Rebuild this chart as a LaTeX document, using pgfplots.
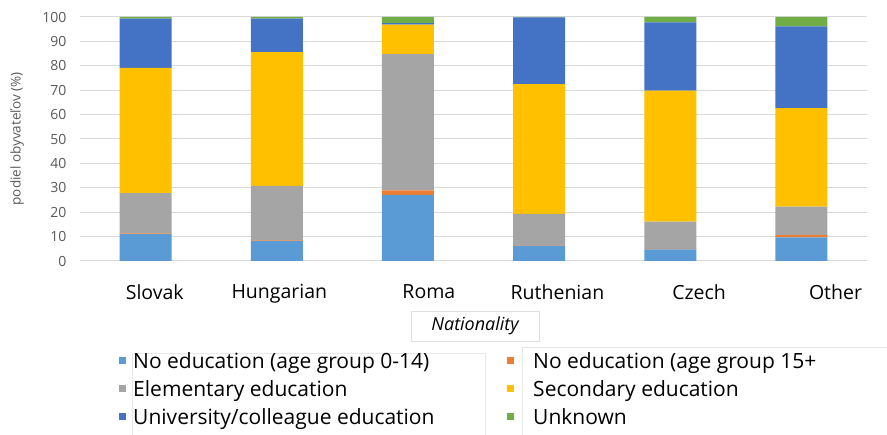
\documentclass[border=0pt]{standalone}
\usepackage{pgfplots}
\pgfplotsset{compat=1.18}
\usepackage{fontspec}
\setmainfont{Open Sans}

\definecolor{cNoA}{HTML}{5B9BD5}
\definecolor{cNoB}{HTML}{ED7D31}
\definecolor{cElem}{HTML}{A5A5A5}
\definecolor{cSec}{HTML}{FFC000}
\definecolor{cUni}{HTML}{4472C4}
\definecolor{cUnk}{HTML}{70AD47}
\definecolor{gridc}{HTML}{D9D9D9}
\definecolor{tickc}{HTML}{595959}

\begin{document}
\begin{tikzpicture}
\useasboundingbox (0,0) rectangle (887pt,435pt);
% faint frames left over around the two legend halves
\draw[black!9] (132pt,0pt) -- (132pt,82pt) -- (485pt,82pt) -- (485pt,0pt);
\draw[black!9] (522pt,0pt) -- (522pt,88pt) -- (887pt,88pt);
\begin{axis}[
    at={(80pt,174pt)}, anchor=south west,
    scale only axis,
    width=787pt, height=244pt,
    ybar stacked, bar width=52pt,
    xmin=-0.5, xmax=5.5,
    ymin=0, ymax=100,
    ytick={0,10,...,100},
    % labels sit a little right of the bars, as in the original
    xtick={0.07,1.02,2.16,3.14,4.22,5.26},
    xticklabels={Slovak,Hungarian,Roma,Ruthenian,Czech,Other},
    major tick length=0pt,
    axis line style={draw=none},
    ymajorgrids, grid style={gridc, line width=1pt},
    /pgf/number format/assume math mode=true,
    yticklabel style={font=\fontsize{14}{16}\selectfont, text=tickc, xshift=-10pt},
    xticklabel style={font=\fontsize{19.5}{22}\selectfont, yshift=-20pt},
    ylabel={podiel obyvateľov (\%)},
    every axis y label/.style={at={(axis description cs:-0.08,0.5)}, rotate=90, anchor=center,
        font=\fontsize{13.5}{15}\selectfont, text=tickc},
    xlabel={\itshape Nationality},
    every axis x label/.style={at={(axis description cs:0.502,-0.266)}, anchor=center,
        font=\fontsize{18}{21}\selectfont, draw=black!12, minimum width=128pt, minimum height=30pt},
    legend columns=2,
    legend image code/.code={\fill[#1] (0pt,-1pt) rectangle (7pt,6pt);},
    legend style={at={(axis description cs:0.0496,-0.377)}, anchor=north west,
        draw=none, fill=none, inner sep=0pt, row sep=9pt, column sep=7pt,
        font=\fontsize{21}{24}\selectfont,
        nodes={inner sep=0pt, text height=15pt, text depth=4pt}},
    legend cell align=left,
]
% order: Slovak, Hungarian, Roma, Ruthenian, Czech, Other
\addplot[fill=cNoA, draw=none] coordinates {(0,11.0) (1,8.2) (2,27.1) (3,6.3) (4,4.8) (5,9.7)};
\addplot[fill=cNoB, draw=none] coordinates {(0,0.3) (1,0.3) (2,1.8) (3,0.2) (4,0.2) (5,0.9)};
\addplot[fill=cElem, draw=none] coordinates {(0,16.5) (1,22.3) (2,55.9) (3,12.8) (4,11.1) (5,11.7)};
\addplot[fill=cSec, draw=none] coordinates {(0,51.3) (1,54.8) (2,12.1) (3,53.2) (4,53.7) (5,40.4)};
\addplot[fill=cUni, draw=none] coordinates {(0,20.2) (1,13.7) (2,0.6) (3,27.3) (4,28.0) (5,33.5)};
\addplot[fill=cUnk, draw=none] coordinates {(0,0.7) (1,0.7) (2,2.5) (3,0.2) (4,2.2) (5,3.8)};
\legend{\makebox[367pt][l]{No education (age group 0-14)},\hspace{12pt}No education (age group 15+,
    Elementary education,\hspace{12pt}Secondary education,
    University/colleague education,\hspace{12pt}Unknown}
\end{axis}
\end{tikzpicture}
\end{document}
